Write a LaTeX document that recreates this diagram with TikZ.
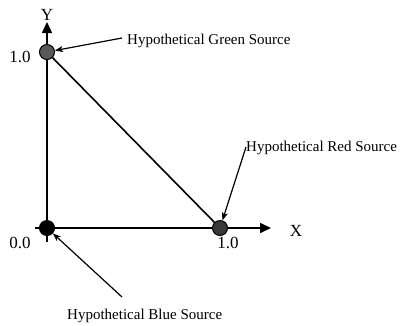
\documentclass[tikz,border=0pt]{standalone}
\usepackage{fontspec}
\setmainfont{Liberation Serif}
\usetikzlibrary{positioning,arrows.meta,calc}

\begin{document}
\begin{tikzpicture}[x=1pt, y=-1pt,
    axis/.style={line width=1.6pt, -{Triangle[length=11pt, width=10pt]}},
    callout/.style={line width=1.2pt, -{Stealth[length=8pt, width=6pt, inset=2pt]}},
    source/.style={circle, draw=black, line width=1pt, minimum size=15pt, inner sep=0pt},
    tick/.style={font=\fontsize{17}{20}\selectfont, inner sep=0pt},
    lbl/.style={font=\fontsize{15}{17}\selectfont, inner sep=0pt}]
    \useasboundingbox (0,0) rectangle (403,325);

    % Axes
    \coordinate (xstart) at (35,228);
    \coordinate (xend) at (271,228);
    \coordinate (ystart) at (47,242);
    \coordinate (yend) at (47,22);
    \draw[axis] (xstart) -- (xend);
    \draw[axis] (ystart) -- (yend);
    \node[tick] (xlbl) at (296,231) {X};
    \node[tick] (ylbl) at (47,15) {Y};

    % Sources (corners of the gamut)
    \node[source, fill=black] (blue) at (47,228) {};
    \node[source, fill=black!65] (green) at (47,52) {};
    \node[source, fill=black!78] (red) at (220,228) {};
    \draw[line width=1.6pt] (green) -- (red);

    % Values
    \node[tick] (vgreen) at (20,57) {1.0};
    \node[tick] (vblue) at (20,243) {0.0};
    \node[tick] (vred) at (228,243) {1.0};

    % Callouts
    \node[lbl, anchor=base west] (greentxt) at (127,44) {Hypothetical Green Source};
    \node[lbl, anchor=base west] (redtxt) at (246,151) {Hypothetical Red Source};
    \node[lbl, anchor=base west] (bluetxt) at (67,319) {Hypothetical Blue Source};
    \coordinate (greentail) at (122,38);
    \coordinate (redtail) at (246,147);
    \coordinate (bluetail) at (122,297);
    \draw[callout] (greentail) -- (green);
    \draw[callout] (redtail) -- (red);
    \draw[callout] (bluetail) -- (blue);
\end{tikzpicture}
\end{document}
